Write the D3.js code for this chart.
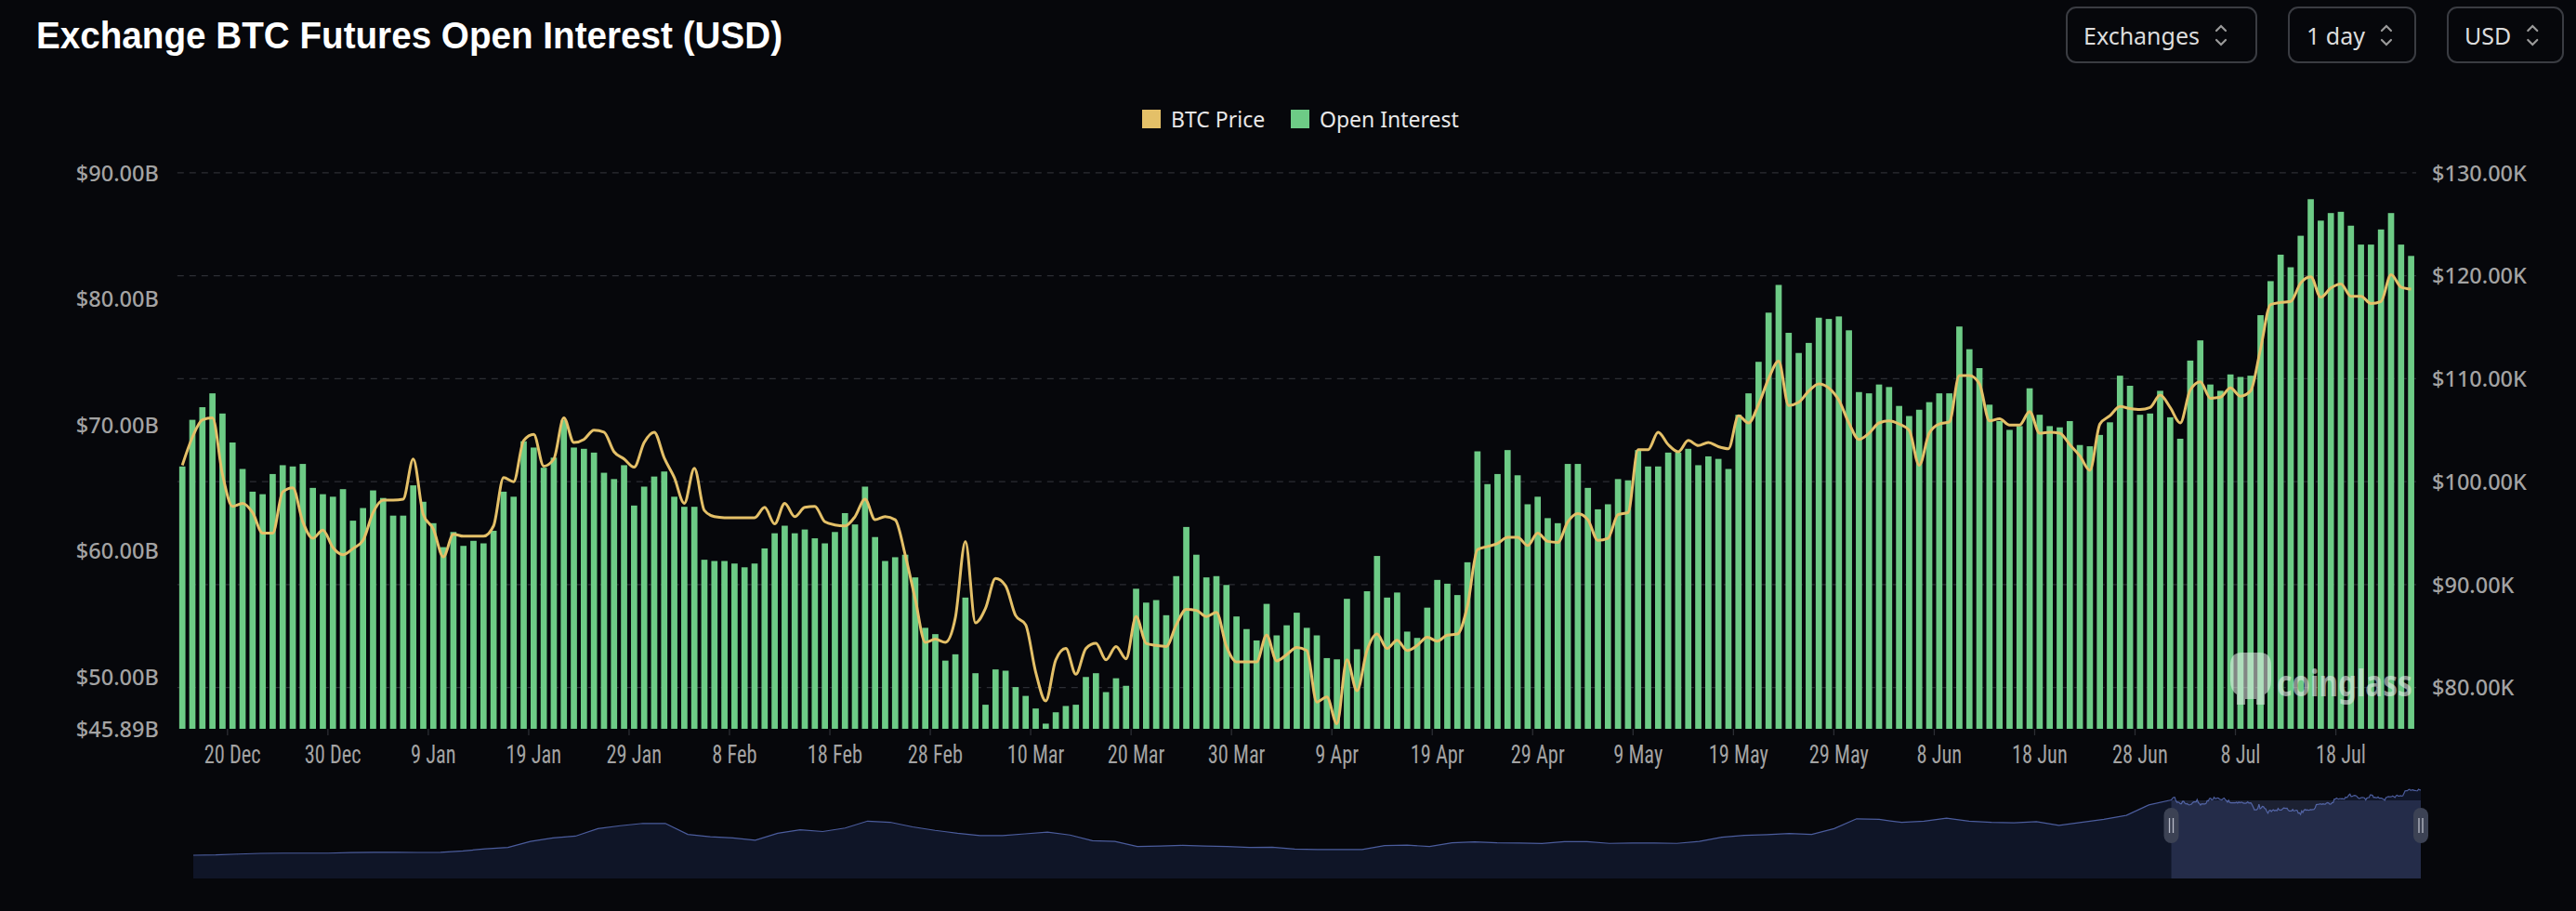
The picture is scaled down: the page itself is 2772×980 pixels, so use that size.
<!DOCTYPE html>
<html><head><meta charset="utf-8">
<script src="https://cdn.jsdelivr.net/npm/d3@7/dist/d3.min.js"></script>
<style>
html,body{margin:0;padding:0;background:#06070b;}
svg{display:block;}
</style></head><body>
<svg id="chart" width="2772" height="980"></svg>
<script>
// ---------------- DATA ----------------
const startDate = "2024-12-15"; // first daily bar
// Open interest, billions USD (daily)
const openInterest = [
66.7,70.4,71.4,72.5,70.9,68.6,66.5,64.7,64.5,66.1,66.8,66.7,66.9,65.0,64.5,64.3,64.9,62.4,63.4,64.8,
64.2,62.8,62.8,65.2,63.9,62.2,60.3,61.5,60.4,60.8,60.6,61.6,64.7,64.3,68.7,68.2,66.6,67.4,70.4,68.2,
68.1,67.8,66.2,65.7,66.8,63.6,65.1,65.9,66.3,64.3,63.5,63.5,59.3,59.2,59.2,59.0,58.7,59.0,60.2,61.4,
62.0,61.4,61.7,61.0,60.6,61.5,63.0,62.1,65.1,61.1,59.2,59.5,59.7,57.9,53.9,53.4,51.3,51.8,56.3,50.3,
47.8,50.6,50.5,49.2,48.5,47.5,46.3,47.2,47.7,47.8,50.0,50.3,48.8,49.9,49.3,57.0,55.9,56.1,54.9,58.0,
61.9,59.7,57.9,58.0,57.3,54.8,53.8,52.9,55.8,53.3,54.1,55.1,53.9,53.3,51.5,51.4,56.2,52.2,56.8,59.6,
56.3,56.7,53.6,53.1,55.5,57.7,57.4,56.5,59.1,67.9,65.3,66.1,68.0,66.0,63.7,64.3,62.6,62.2,66.9,66.9,
65.0,63.3,63.7,65.7,65.6,68.0,66.7,66.7,67.8,67.8,68.1,66.8,67.5,67.3,66.5,70.8,72.5,75.0,78.9,81.1,
77.3,75.7,76.5,78.5,78.4,78.6,77.5,72.6,72.5,73.2,73.0,71.5,70.7,71.2,71.8,72.5,72.5,77.8,76.0,74.5,
71.6,70.3,69.6,69.9,72.9,70.8,69.9,69.8,70.3,68.4,68.3,69.2,70.2,73.9,73.1,70.8,70.9,72.7,70.6,68.9,
75.1,76.7,73.2,72.7,74.0,73.8,73.9,78.7,81.4,83.5,82.5,85.0,87.9,86.2,86.8,86.9,85.8,84.3,84.3,85.5,
86.8,84.3,83.4
];
// BTC price, thousands USD (daily)
const btcPrice = [
101.6,104.3,106.0,106.2,100.7,97.6,97.9,97.0,95.0,95.0,99.0,99.4,96.1,94.5,95.3,93.6,92.9,93.5,94.3,97.0,
98.2,98.2,98.3,102.2,96.8,95.4,92.7,94.9,94.7,94.7,94.7,95.7,100.4,100.0,104.0,104.6,101.5,102.2,106.2,103.8,
104.1,105.0,104.8,102.9,102.2,101.4,103.8,104.8,102.3,100.4,97.9,101.3,97.2,96.6,96.5,96.5,96.5,96.5,97.5,95.9,
97.9,96.6,97.5,97.6,96.1,95.8,95.7,96.6,98.3,96.3,96.6,96.3,92.9,88.6,84.4,84.7,84.4,86.8,94.2,86.3,
87.7,90.6,89.9,87.0,86.1,81.5,78.7,82.7,83.8,81.3,83.8,84.3,82.7,84.0,82.8,86.9,84.3,84.1,84.0,86.1,
87.6,87.5,86.9,87.3,84.0,82.5,82.5,82.5,85.1,82.6,83.2,83.9,83.6,78.6,79.1,76.5,82.7,79.7,83.6,85.2,
83.8,84.6,83.6,84.1,84.9,84.5,85.1,85.2,87.9,93.4,93.7,94.0,94.6,94.6,93.8,95.0,94.2,94.1,96.1,96.9,
96.3,94.3,94.5,96.8,97.0,103.1,103.1,104.8,103.6,102.9,104.0,103.5,103.8,103.4,103.2,106.4,105.7,107.5,110.0,111.7,
107.4,107.7,108.8,109.5,109.1,107.9,105.7,104.1,104.7,105.7,105.9,105.6,105.0,101.6,104.7,105.6,105.8,110.3,110.3,109.5,
105.9,106.1,105.5,105.5,106.8,104.7,104.8,104.7,103.6,102.5,101.1,105.6,106.4,107.3,107.1,107.0,107.2,108.4,107.2,105.7,
108.9,109.7,108.1,108.2,109.1,108.3,108.8,112.9,117.2,117.4,117.5,119.3,119.9,117.9,118.8,119.2,118.0,118.0,117.3,117.5,
120.1,118.9,118.7
];
// Long BTC price history for the zoom slider (thousands USD), one reading every 20 days before startDate
const historyStepDays = 20;
const historyPrice = [
6,6.5,8,9.2,9.6,9.6,9.6,10.5,11.1,11,10.8,11,13.5,17,19.5,30,36,39,52,57,
61,61,42,38,36,32,44,50,47,53,65,63,55,49,44,40,40,43,46,41,
31,30,21,22,23,22,21,19.5,20,16.5,16,16,16,22.6,23.5,21,27.5,29,27.5,27,
26.3,29.5,29.5,26.5,27,27,26.5,30,37,40.3,41.5,43.5,42,52,69,68,62.7,65,70,65,
63,62,64,57.5,63,68,75,93
];
const leftTicks = [90, 80, 70, 60, 50, 45.89];
const rightTicks = [130, 120, 110, 100, 90, 80];
const xTickLabels = ["20 Dec","30 Dec","9 Jan","19 Jan","29 Jan","8 Feb","18 Feb","28 Feb","10 Mar","20 Mar","30 Mar","9 Apr","19 Apr","29 Apr","9 May","19 May","29 May","8 Jun","18 Jun","28 Jun","8 Jul","18 Jul"];
const legendItems = [{name:"BTC Price", color:"#e4c068"},{name:"Open Interest", color:"#6dcb86"}];
const buttons = ["Exchanges","1 day","USD"];
const titleText = "Exchange BTC Futures Open Interest (USD)";

// ---------------- LAYOUT ----------------
const W = 2772, H = 980;
const M = {left:190.8, right:2600, top:185.8, bottom:784};
const BG = "#06070b";
const svg = d3.select("#chart");
svg.append("rect").attr("width",W).attr("height",H).attr("fill",BG);

const parse = d3.timeParse("%Y-%m-%d");
const start = parse(startDate);
const dates = openInterest.map((_,i)=>d3.timeDay.offset(start,i));
const fmt = d3.timeFormat("%-d %b");

const x = d3.scaleBand().domain(d3.range(openInterest.length))
  .range([M.left, M.right]).paddingInner(0.38).paddingOuter(0.19);
const yL = d3.scaleLinear().domain([45.89, 90]).range([M.bottom, M.top]);
const yR = d3.scaleLinear().domain([76.0, 130]).range([M.bottom, M.top]);

// Title
const title = svg.append("text").attr("x",39).attr("y",52)
  .attr("font-family","'Liberation Sans', Arial, sans-serif").attr("font-weight",700)
  .attr("font-size",41).attr("fill","#ffffff").text(titleText);
title.attr("textLength",803).attr("lengthAdjust","spacingAndGlyphs");

// Buttons
const btnBoxes = [[2224,2428],[2463,2599],[2634,2758]];
const btnText = [2242,2482,2652];
buttons.forEach((b,i)=>{
  const g = svg.append("g");
  g.append("rect").attr("x",btnBoxes[i][0]).attr("y",8).attr("width",btnBoxes[i][1]-btnBoxes[i][0])
   .attr("height",59).attr("rx",10).attr("fill","none").attr("stroke","#3a3c42").attr("stroke-width",2);
  const t = g.append("text").attr("x",btnText[i]).attr("y",38).attr("dominant-baseline","central")
   .attr("font-family","'Noto Sans', Roboto, sans-serif").attr("font-size",25).attr("fill","#dcdcdc").text(b);
  const tw = t.node().getComputedTextLength();
  const cx = btnText[i] + tw + 23;
  g.append("path").attr("d",`M${cx-5},${33} L${cx},${28} L${cx+5},${33} M${cx-5},${43} L${cx},${48} L${cx+5},${43}`)
   .attr("fill","none").attr("stroke","#9a9a9a").attr("stroke-width",2.2).attr("stroke-linecap","round");
});

// Legend
const legendX = [1229, 1389];
legendItems.forEach((d,i)=>{
  svg.append("rect").attr("x",legendX[i]).attr("y",118).attr("width",20).attr("height",20).attr("fill",d.color);
  svg.append("text").attr("x",legendX[i]+31).attr("y",128).attr("dominant-baseline","central")
   .attr("font-family","'Noto Sans', Roboto, sans-serif").attr("font-size",23).attr("fill","#e8e8e8").text(d.name);
});

// Grid (right axis ticks)
svg.append("g").selectAll("line").data(rightTicks).join("line")
  .attr("x1",M.left).attr("x2",M.right).attr("y1",d=>yR(d)).attr("y2",d=>yR(d))
  .attr("stroke","#2c2e34").attr("stroke-width",1.3).attr("stroke-dasharray","7,6");

// Bars
svg.append("g").selectAll("rect").data(openInterest).join("rect")
  .attr("x",(d,i)=>x(i)).attr("width",x.bandwidth())
  .attr("y",d=>yL(d)).attr("height",d=>M.bottom-yL(d)).attr("fill","#6dcb86");

// Watermark
const wm = svg.append("g").attr("opacity",0.55);
const wmText = wm.append("text").attr("x",0).attr("y",0).attr("dominant-baseline","central")
  .attr("font-family","'Noto Sans', sans-serif").attr("font-weight",700).attr("font-size",40)
  .attr("fill","#f0f0f0").text("coinglass");
const wmW = wmText.node().getComputedTextLength();
wmText.attr("transform",`translate(2450,733) scale(${146/wmW},1)`);
wm.append("path").attr("d","M2400,716 q0,-14 12,-14 l20,0 q12,0 12,14 l0,16 q0,11 -7,15 l0,11 l-9,0 l0,-6 l-12,0 l0,6 l-9,0 l0,-11 q-7,-4 -7,-15 z")
  .attr("fill","#e8f0ea");

// Price line
const line = d3.line().x((d,i)=>x(i)+x.bandwidth()/2).y(d=>yR(d)).curve(d3.curveMonotoneX);
svg.append("path").datum(btcPrice).attr("d",line).attr("fill","none")
  .attr("stroke","#e4c068").attr("stroke-width",3).attr("stroke-linejoin","round");

// Axes
const axisFont = "'Noto Sans', Roboto, sans-serif";
const gl = svg.append("g").attr("transform",`translate(${M.left},0)`)
  .call(d3.axisLeft(yL).tickValues(leftTicks).tickSize(0).tickPadding(20).tickFormat(d=>"$"+d.toFixed(2)+"B"));
const gr = svg.append("g").attr("transform",`translate(${M.right},0)`)
  .call(d3.axisRight(yR).tickValues(rightTicks).tickSize(0).tickPadding(17).tickFormat(d=>"$"+d.toFixed(2)+"K"));
[gl,gr].forEach(g=>{
  g.select(".domain").remove();
  g.selectAll("text").attr("font-family",axisFont).attr("font-size",23.5).attr("font-weight",500)
   .attr("fill","#a3a3a3").attr("dy","0.35em");
});

const tickIdx = dates.map((d,i)=>i).filter(i=>xTickLabels.includes(fmt(dates[i])));
const gx = svg.append("g").attr("transform",`translate(0,${M.bottom})`)
  .call(d3.axisBottom(x).tickValues(tickIdx).tickSize(0).tickPadding(0).tickFormat(i=>fmt(dates[i])));
gx.select(".domain").remove();
gx.selectAll("text").attr("y",27).attr("dy","0.35em")
  .attr("font-family","'Roboto Condensed','Liberation Sans Narrow','DejaVu Sans Condensed',Roboto,sans-serif")
  .attr("font-size",28).attr("fill","#a3a3a3").attr("font-stretch","condensed");
gx.selectAll("text").each(function(){
  const t=d3.select(this); const w=this.getComputedTextLength();
  const target = w*0.8; t.attr("textLength",target).attr("lengthAdjust","spacingAndGlyphs");
});
svg.append("g").selectAll("line").data(tickIdx).join("line")
  .attr("x1",i=>x(i)-x.step()*x.paddingInner()/2).attr("x2",i=>x(i)-x.step()*x.paddingInner()/2)
  .attr("y1",M.bottom).attr("y2",M.bottom+7).attr("stroke","#2c2e34").attr("stroke-width",1.3);

// ---------------- SLIDER ----------------
const S = {left:208, right:2605, top:861, bottom:945};
const histDays = historyPrice.map((_,k)=>-(historyPrice.length-k)*historyStepDays);
const allDays = histDays.concat(btcPrice.map((_,i)=>i));
const allVals = historyPrice.concat(btcPrice);
const sx = d3.scaleLinear().domain([allDays[0], allDays[allDays.length-1]]).range([S.left,S.right]);
const ext = d3.extent(allVals);
const sy = d3.scaleLinear().domain([ext[0], ext[1]]).range([920, 849]);
const pts = allDays.map((d,i)=>[d,allVals[i]]);
svg.append("path").datum(pts).attr("d",d3.area().x(d=>sx(d[0])).y0(S.bottom).y1(d=>sy(d[1])))
  .attr("fill","#0f1527");
svg.append("path").datum(pts).attr("d",d3.line().x(d=>sx(d[0])).y(d=>sy(d[1])))
  .attr("fill","none").attr("stroke","#4b5c9c").attr("stroke-width",1.2);
const wx0 = sx(0), wx1 = sx(btcPrice.length-1);
svg.append("rect").attr("x",wx0).attr("y",S.top).attr("width",wx1-wx0).attr("height",S.bottom-S.top)
  .attr("fill","rgba(120,140,210,0.2)");
[wx0,wx1].forEach(hx=>{
  const cy = 888;
  svg.append("rect").attr("x",hx-8).attr("y",cy-19).attr("width",16).attr("height",38)
    .attr("rx",8).attr("fill","#3c4254");
  svg.append("line").attr("x1",hx-2).attr("x2",hx-2).attr("y1",cy-8).attr("y2",cy+8)
    .attr("stroke","#b8bcc8").attr("stroke-width",1.3);
  svg.append("line").attr("x1",hx+2).attr("x2",hx+2).attr("y1",cy-8).attr("y2",cy+8)
    .attr("stroke","#b8bcc8").attr("stroke-width",1.3);
});
</script>
</body></html>
